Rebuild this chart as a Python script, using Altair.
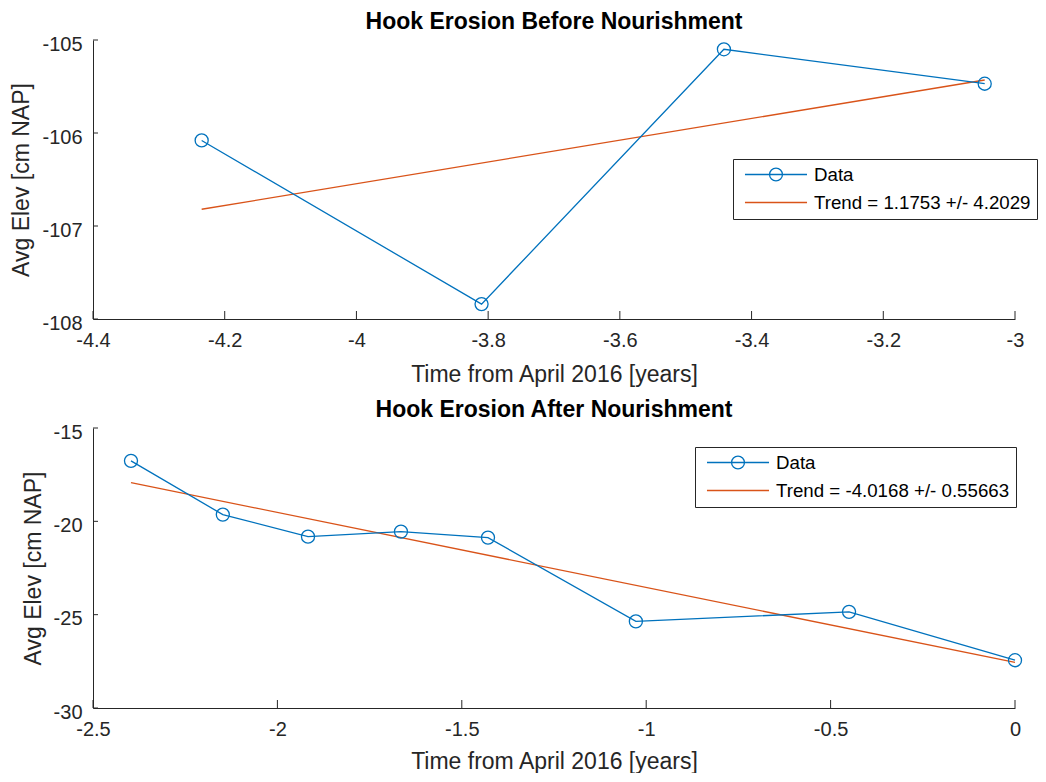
import altair as alt
import pandas as pd

# ---------------- data ----------------
# Top panel: Hook erosion before nourishment
before_t = [-4.235, -3.81, -3.442, -3.046]
before_elev = [-106.08, -107.84, -105.10, -105.47]
before_trend_t = [-4.235, -3.046]
before_trend_elev = [-106.82, -105.43]
before_xticks = [-4.4, -4.2, -4.0, -3.8, -3.6, -3.4, -3.2, -3.0]
before_yticks = [-108, -107, -106, -105]
before_series = ["Data", "Trend = 1.1753 +/- 4.2029"]

# Bottom panel: Hook erosion after nourishment
after_t = [-2.397, -2.148, -1.917, -1.665, -1.429, -1.028, -0.450, 0.0]
after_elev = [-16.76, -19.64, -20.82, -20.55, -20.87, -25.36, -24.85, -27.44]
after_trend_t = [-2.397, 0.0]
after_trend_elev = [-17.93, -27.56]
after_xticks = [-2.5, -2.0, -1.5, -1.0, -0.5, 0.0]
after_yticks = [-30, -25, -20, -15]
after_series = ["Data", "Trend = -4.0168 +/- 0.55663"]

# ---------------- style ----------------
BLUE = "#0072BD"
ORANGE = "#D95319"
AXC = "#262626"
FONT = "Liberation Sans"
W = 922

# legend glyphs (unit = sqrt(symbolSize)/2 px)
DATA_SYMBOL = "M-3.65,0H3.65M0.76,0A0.76,0.76 0 1,1 -0.76,0A0.76,0.76 0 1,1 0.76,0Z"
LINE_SYMBOL = "M-3.65,0H3.65"


def panel(title, t, elev, tr_t, tr_elev, xticks, yticks, series, legx, legy, H, xtitle_pad):
    xdom = [xticks[0], xticks[-1]]
    ydom = [yticks[0], yticks[-1]]

    def X():
        return alt.X(
            "t:Q",
            scale=alt.Scale(domain=xdom, nice=False, zero=False),
            axis=alt.Axis(
                values=xticks,
                labelExpr="'' + datum.value",
                title="Time from April 2016 [years]",
                labelPadding=11,
                titlePadding=xtitle_pad,
                labelFlush=False,
                labelOverlap=False,
            ),
        )

    def Y():
        return alt.Y(
            "elev:Q",
            scale=alt.Scale(domain=ydom, nice=False, zero=False),
            axis=alt.Axis(
                values=yticks,
                labelExpr="'' + datum.value",
                title="Avg Elev [cm NAP]",
                labelPadding=11,
                labelOffset=4,
                titlePadding=8,
                labelFlush=False,
                labelOverlap=False,
            ),
        )

    data_df = pd.DataFrame({"t": t, "elev": elev})
    trend_df = pd.DataFrame({"t": tr_t, "elev": tr_elev})
    xt_df = pd.DataFrame({"t": xticks})
    yt_df = pd.DataFrame({"elev": yticks})
    leg_df = pd.DataFrame({"t": [t[0], tr_t[0]], "elev": [elev[0], tr_elev[0]], "series": series})

    xticks_l = alt.Chart(xt_df).mark_rule(color=AXC, strokeWidth=1).encode(
        x=X(), y=alt.value(H), y2=alt.value(H - 8)
    )
    yticks_l = alt.Chart(yt_df).mark_rule(color=AXC, strokeWidth=1).encode(
        y=Y(), x=alt.value(0), x2=alt.value(5)
    )
    trend_l = alt.Chart(trend_df).mark_line(color=ORANGE, strokeWidth=1.3).encode(x=X(), y=Y())
    line_l = alt.Chart(data_df).mark_line(color=BLUE, strokeWidth=1.3).encode(x=X(), y=Y())
    pts_l = alt.Chart(data_df).mark_point(
        shape="circle", filled=False, size=170, color=BLUE, strokeWidth=1.3, opacity=1
    ).encode(x=X(), y=Y())

    leg = alt.Legend(
        title=None,
        orient="none",
        legendX=legx,
        legendY=legy,
        strokeColor=AXC,
        fillColor="white",
        padding=6,
        labelFont=FONT,
        labelFontSize=18.7,
        labelColor="#000000",
        labelLimit=400,
        labelOffset=28.5,
        symbolOffset=27.5,
        symbolSize=289,
        symbolStrokeWidth=1.3,
        symbolOpacity=1,
        symbolFillColor="transparent",
        rowPadding=8,
    )
    leg_l = alt.Chart(leg_df).mark_point(filled=False, opacity=0).encode(
        x=X(),
        y=Y(),
        color=alt.Color("series:N", scale=alt.Scale(domain=series, range=[BLUE, ORANGE]), legend=leg),
        shape=alt.Shape("series:N", scale=alt.Scale(domain=series, range=[DATA_SYMBOL, LINE_SYMBOL]), legend=leg),
    )

    return alt.layer(xticks_l, yticks_l, trend_l, line_l, pts_l, leg_l).properties(
        width=W,
        height=H,
        title=alt.TitleParams(
            title,
            font=FONT,
            fontSize=23,
            fontWeight="bold",
            color="#000000",
            anchor="middle",
            frame="group",
            baseline="alphabetic",
            offset=-18,
        ),
    )


top = panel("Hook Erosion Before Nourishment", before_t, before_elev, before_trend_t, before_trend_elev,
            before_xticks, before_yticks, before_series, 640, 119, 279, 13)
bottom = panel("Hook Erosion After Nourishment", after_t, after_elev, after_trend_t, after_trend_elev,
               after_xticks, after_yticks, after_series, 602, 19, 280, 11)

chart = (
    alt.vconcat(top, bottom, spacing=13)
    .resolve_scale(x="independent", y="independent", color="independent", shape="independent")
    .resolve_legend(color="independent", shape="independent")
    .configure(padding={"left": 2, "top": 3, "right": 0, "bottom": 0}, background="white")
    .configure_view(stroke=None)
    .configure_axis(
        domainColor=AXC,
        domainWidth=1,
        labelColor=AXC,
        titleColor=AXC,
        labelFont=FONT,
        titleFont=FONT,
        labelFontSize=20,
        titleFontSize=23,
        titleFontWeight="normal",
        grid=False,
        ticks=False,
        tickSize=0,
    )
)

chart.save("out.html", embed_options={"renderer": "svg", "actions": False})
